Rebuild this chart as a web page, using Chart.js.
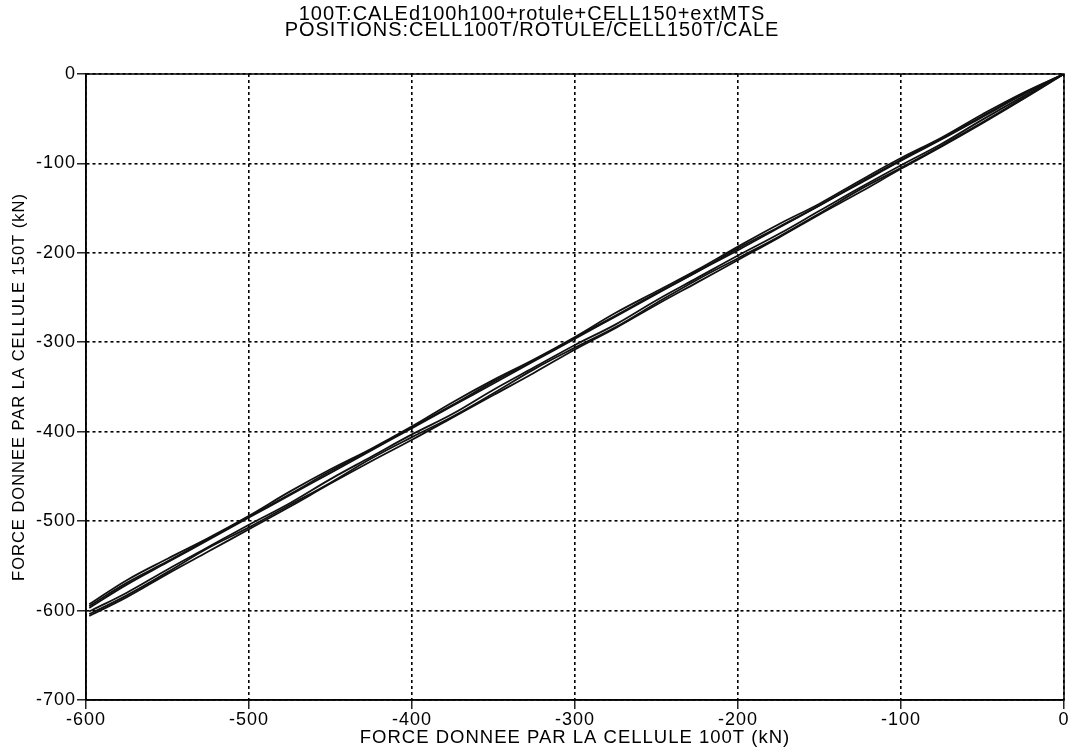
<!DOCTYPE html>
<html>
<head>
<meta charset="utf-8">
<script src="https://cdn.jsdelivr.net/npm/chart.js@4.4.1/dist/chart.umd.min.js"></script>
<style>
  html, body { margin: 0; padding: 0; background: #fff; }
  #wrap { width: 1072px; height: 748px; }
</style>
</head>
<body>
<div id="wrap"><canvas id="forceChart" width="1072" height="748"></canvas></div>
<script>
// data (kN)
const forceCell100 = [0, -25, -50, -75, -100, -125, -150, -175, -200, -225, -250, -275, -300,
    -325, -350, -375, -400, -425, -450, -475, -500, -525, -550, -575, -598];

const loadA   = [0, -27, -54, -80, -105, -129, -156, -182, -206, -230, -256, -283, -306, -330, -357, -383, -406, -430, -457, -482, -507, -530, -557, -583, -604];
const unloadA = [0, -21, -45, -71, -94, -119, -145, -168, -193, -219, -243, -267, -294, -319, -342, -367, -394, -419, -442, -467, -494, -519, -542, -566, -593];
const loadB   = [0, -25, -51, -78, -102, -127, -153, -179, -203, -228, -253, -280, -303, -328, -353, -380, -403, -428, -453, -480, -504, -529, -554, -580, -601];
const unloadB = [0, -23, -48, -73, -97, -122, -147, -172, -197, -221, -246, -271, -296, -321, -346, -371, -396, -421, -446, -471, -496, -521, -546, -571, -597];
const loadC   = [0, -28, -55, -81, -106, -132, -157, -183, -208, -233, -258, -284, -308, -334, -359, -384, -409, -433, -458, -484, -509, -534, -559, -585, -606];
const unloadC = [0, -22, -47, -72, -96, -121, -147, -171, -195, -221, -245, -270, -295, -320, -344, -370, -395, -420, -444, -470, -495, -520, -545, -569, -595];

const branches = [loadA, unloadA, loadB, unloadB, loadC, unloadC];

const titleLines = ['100T:CALEd100h100+rotule+CELL150+extMTS', 'POSITIONS:CELL100T/ROTULE/CELL150T/CALE'];
const xTitle = 'FORCE DONNEE PAR LA CELLULE 100T (kN)';
const yTitle = 'FORCE DONNEE PAR LA CELLULE 150T (kN)';

const font = "'Liberation Sans', Arial, sans-serif";

// frame round the plot area + a bit of letter spacing like the scanned plot
const frame = {
    id: 'frame',
    beforeDraw(chart) {
        chart.ctx.letterSpacing = '1px';
    },
    afterDraw(chart) {
        const { ctx, chartArea } = chart;
        ctx.save();
        ctx.strokeStyle = '#000';
        ctx.lineWidth = 1.5;
        ctx.strokeRect(chartArea.left, chartArea.top, chartArea.right - chartArea.left, chartArea.bottom - chartArea.top);
        ctx.restore();
        ctx.letterSpacing = '0px';
    }
};

const datasets = branches.map((ys) => ({
    data: ys.map((y, i) => ({ x: forceCell100[i], y: y })),
    showLine: true,
    borderColor: '#111',
    borderWidth: 1.8,
    pointRadius: 0,
    tension: 0.4,
    fill: false,
}));

const grid = {
    color: '#000',
    lineWidth: 1.6,
    tickLength: 9,
    tickColor: '#000',
    tickWidth: 1.3,
};
const border = { display: true, color: '#000', width: 1.5, dash: [3, 3] };

const config = {
    type: 'scatter',
    data: { datasets },
    options: {
        responsive: false,
        animation: false,
        layout: { padding: { left: 0, right: 8, top: 0, bottom: 1 } },
        plugins: {
            legend: { display: false },
            tooltip: { enabled: false },
            title: {
                display: true,
                text: titleLines,
                color: '#000',
                font: { family: font, size: 20, weight: 'normal', lineHeight: 0.8 },
                padding: { top: 6, bottom: 36 },
            },
        },
        scales: {
            x: {
                type: 'linear',
                min: -600,
                max: 0,
                grid: grid,
                border: border,
                ticks: { stepSize: 100, color: '#000', font: { family: font, size: 18, lineHeight: 1 }, padding: 2, maxRotation: 0 },
                title: { display: true, text: xTitle, color: '#000', font: { family: font, size: 18.5, lineHeight: 1 }, padding: { top: 4, bottom: 0 } },
                afterFit(scale) { scale.height = 47; },
            },
            y: {
                type: 'linear',
                min: -700,
                max: 0,
                grid: grid,
                border: border,
                ticks: { stepSize: 100, color: '#000', font: { family: font, size: 18 }, padding: 1 },
                title: { display: true, text: yTitle, color: '#000', font: { family: font, size: 16.5 }, padding: { top: 10, bottom: 2 } },
                afterFit(scale) { scale.width = 86; },
            },
        },
    },
    plugins: [frame],
};

const forceChart = new Chart(document.getElementById('forceChart'), config);
</script>
</body>
</html>
